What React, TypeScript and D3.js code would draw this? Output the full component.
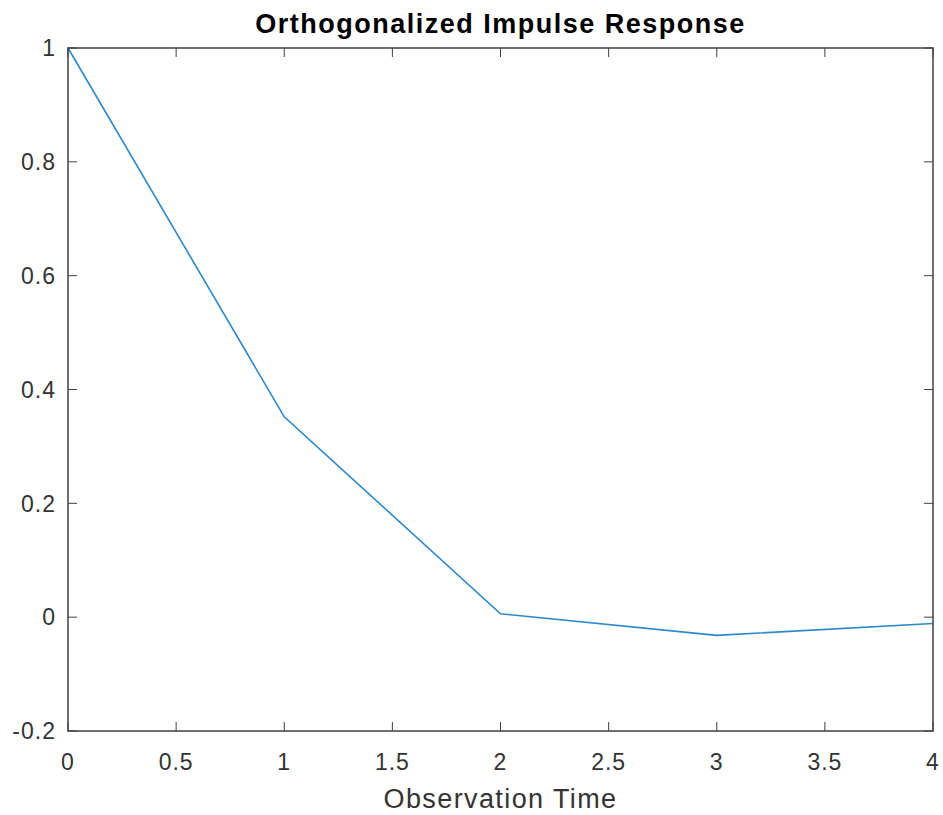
import { useEffect, useRef } from 'react'
import * as d3 from 'd3'

const times = [0, 1, 2, 3, 4]
const response = [1, 0.352, 0.006, -0.032, -0.011]
const xTicks = [0, 0.5, 1, 1.5, 2, 2.5, 3, 3.5, 4]
const yTicks = [-0.2, 0, 0.2, 0.4, 0.6, 0.8, 1]

const W = 943
const H = 815
const margin = { top: 48, right: 10, bottom: 84, left: 68 }

const App = () => {
  const svgRef = useRef<SVGSVGElement | null>(null)

  useEffect(() => {
    if (!svgRef.current) return
    const svg = d3.select(svgRef.current)
    svg.selectAll('*').remove()

    const width = W - margin.left - margin.right
    const height = H - margin.top - margin.bottom
    const x = d3.scaleLinear().domain([0, 4]).range([0, width])
    const y = d3.scaleLinear().domain([-0.2, 1]).range([height, 0])
    const axisColor = '#404040'
    const font = '"Liberation Sans", Arial, Helvetica, sans-serif'

    const g = svg.append('g').attr('transform', `translate(${margin.left},${margin.top})`)

    // data line
    const line = d3.line<number>()
      .x((_, i) => x(times[i]))
      .y(d => y(d))
    g.append('path')
      .datum(response)
      .attr('d', line)
      .attr('fill', 'none')
      .attr('stroke', '#2a88cf')
      .attr('stroke-width', 1.6)

    // ticks, inside, on all four sides
    const tickLen = 9
    xTicks.forEach(t => {
      g.append('line').attr('x1', x(t)).attr('x2', x(t)).attr('y1', height).attr('y2', height - tickLen)
        .attr('stroke', axisColor).attr('stroke-width', 1)
      g.append('line').attr('x1', x(t)).attr('x2', x(t)).attr('y1', 0).attr('y2', tickLen)
        .attr('stroke', axisColor).attr('stroke-width', 1)
      g.append('text')
        .attr('x', x(t)).attr('y', height + 39)
        .attr('text-anchor', 'middle')
        .attr('font-family', font).attr('font-size', 23).attr('letter-spacing', 1)
        .attr('fill', '#333')
        .text(String(t))
    })
    yTicks.forEach(t => {
      g.append('line').attr('x1', 0).attr('x2', tickLen).attr('y1', y(t)).attr('y2', y(t))
        .attr('stroke', axisColor).attr('stroke-width', 1)
      g.append('line').attr('x1', width).attr('x2', width - tickLen).attr('y1', y(t)).attr('y2', y(t))
        .attr('stroke', axisColor).attr('stroke-width', 1)
      g.append('text')
        .attr('x', -12).attr('y', y(t)).attr('dy', '0.36em')
        .attr('text-anchor', 'end')
        .attr('font-family', font).attr('font-size', 23).attr('letter-spacing', 1)
        .attr('fill', '#333')
        .text(String(t))
    })

    // box
    g.append('rect')
      .attr('x', 0).attr('y', 0).attr('width', width).attr('height', height)
      .attr('fill', 'none').attr('stroke', axisColor).attr('stroke-width', 1.5)

    // title
    g.append('text')
      .attr('x', width / 2).attr('y', -15)
      .attr('text-anchor', 'middle')
      .attr('font-family', font).attr('font-size', 27).attr('font-weight', 'bold')
      .attr('letter-spacing', 1.5).attr('fill', '#000')
      .text('Orthogonalized Impulse Response')

    // x label
    g.append('text')
      .attr('x', width / 2).attr('y', height + 77)
      .attr('text-anchor', 'middle')
      .attr('font-family', font).attr('font-size', 27).attr('letter-spacing', 1.4)
      .attr('fill', '#333')
      .text('Observation Time')
  }, [])

  return (
    <svg
      ref={svgRef}
      width={W}
      height={H}
      style={{ position: 'absolute', left: 0, top: 0, background: 'white' }}
    />
  )
}

export default App
